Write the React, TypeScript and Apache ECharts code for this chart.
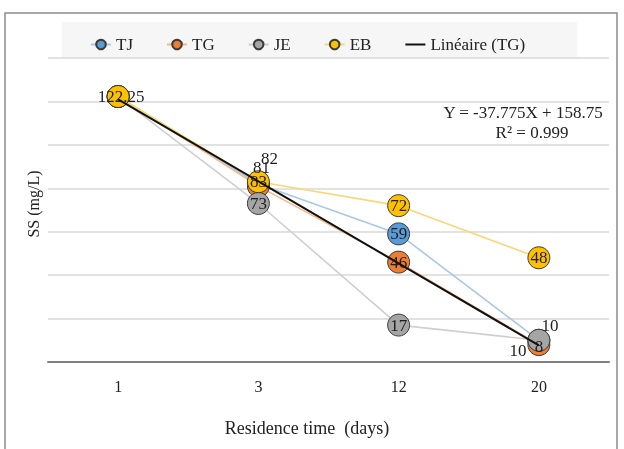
import React, { useEffect, useRef } from "react";
import * as echarts from "echarts";

const categories = ["1", "3", "12", "20"];
const tjValues = [122.25, 82, 59, 10];
const tgValues = [122.25, 81, 46, 8];
const jeValues = [122.25, 73, 17, 10];
const ebValues = [122.25, 83, 72, 48];
const trendValues = [120.98, 83.2, 45.43, 7.65];
const equationText = "Y = -37.775X + 158.75";
const r2Text = "R² = 0.999";

const FONT = "'Liberation Serif', 'Times New Roman', serif";

export default function App() {
  const ref = useRef<HTMLDivElement>(null);
  useEffect(() => {
    if (!ref.current) return;
    const chart = echarts.init(ref.current, undefined, { renderer: "svg" });
    const baseLabel = {
      show: true,
      position: "inside",
      fontFamily: FONT,
      fontSize: 17,
      color: "#1e1e1e",
    };
    const mk = (
      name: string,
      values: number[],
      fill: string,
      lineColor: string,
      offsets: (number[] | null)[]
    ) => ({
      name,
      type: "line",
      z: 2,
      symbol: "circle",
      symbolSize: 22,
      itemStyle: { color: fill, borderColor: "#3a3a3a", borderWidth: 1 },
      lineStyle: { color: lineColor, width: 1.6 },
      label: baseLabel,
      data: values.map((v, i) => ({
        value: v,
        label: offsets[i] === null ? { show: false } : { ...baseLabel, offset: offsets[i] },
      })),
    });
    chart.setOption({
      animation: false,
      grid: { left: 48, right: 15, top: 58, bottom: 87 },
      graphic: [
        {
          type: "rect",
          shape: { x: 5, y: 13, width: 612, height: 445 },
          style: { fill: "none", stroke: "#8c8c8c", lineWidth: 1.5 },
          z: -10,
        },
        {
          type: "rect",
          shape: { x: 62, y: 22, width: 515, height: 36 },
          style: { fill: "#f6f6f6" },
          z: -9,
        },
        {
          type: "text",
          x: 33,
          y: 204,
          rotation: Math.PI / 2,
          style: {
            text: "SS (mg/L)",
            font: `16px ${FONT}`,
            fill: "#222",
            align: "center",
            verticalAlign: "middle",
          },
        },
        {
          type: "text",
          x: 307,
          y: 428,
          style: {
            text: "Residence time  (days)",
            font: `18px ${FONT}`,
            fill: "#222",
            align: "center",
            verticalAlign: "middle",
          },
        },
        {
          type: "text",
          x: 523,
          y: 112,
          style: {
            text: equationText,
            font: `17px ${FONT}`,
            fill: "#222",
            align: "center",
            verticalAlign: "middle",
          },
        },
        {
          type: "text",
          x: 532,
          y: 132,
          style: {
            text: r2Text,
            font: `17px ${FONT}`,
            fill: "#222",
            align: "center",
            verticalAlign: "middle",
          },
        },
      ],
      legend: {
        left: 85,
        top: 31,
        itemWidth: 20,
        itemHeight: 12,
        itemGap: 33,
        textStyle: { fontFamily: FONT, fontSize: 17, color: "#222" },
        data: ["TJ", "TG", "JE", "EB", "Linéaire (TG)"],
      },
      xAxis: {
        type: "category",
        data: categories,
        axisLine: { lineStyle: { color: "#7f7f7f", width: 2 } },
        axisTick: { show: false },
        axisLabel: { fontFamily: FONT, fontSize: 16, color: "#222", margin: 16 },
      },
      yAxis: {
        type: "value",
        min: 0,
        max: 140,
        interval: 20,
        axisLabel: { show: false },
        axisLine: { show: false },
        axisTick: { show: false },
        splitLine: { lineStyle: { color: "#d9d9d9", width: 1.5 } },
      },
      series: [
        mk("TJ", tjValues, "#5b9bd5", "#a9c8e8", [null, [11, -25], [0, 0], [11, -15]]),
        mk("TG", tgValues, "#ed7d31", "#f3b88c", [null, [3, -19], [0, 0], [0, 2]]),
        mk("JE", jeValues, "#a5a5a5", "#cfcfcf", [null, [0, 0], [0, 0], [-21, 10]]),
        mk("EB", ebValues, "#ffc000", "#f7d877", [[3, 0], [0, 0], [0, 0], [0, 0]]),
        {
          name: "Linéaire (TG)",
          type: "line",
          z: 3,
          symbol: "line",
          showSymbol: false,
          lineStyle: { color: "#111", width: 2 },
          itemStyle: { color: "#111" },
          data: trendValues,
        },
      ],
    });
    return () => chart.dispose();
  }, []);
  return (
    <div
      ref={ref}
      style={{ position: "fixed", left: 0, top: 0, width: 624, height: 449 }}
    />
  );
}
